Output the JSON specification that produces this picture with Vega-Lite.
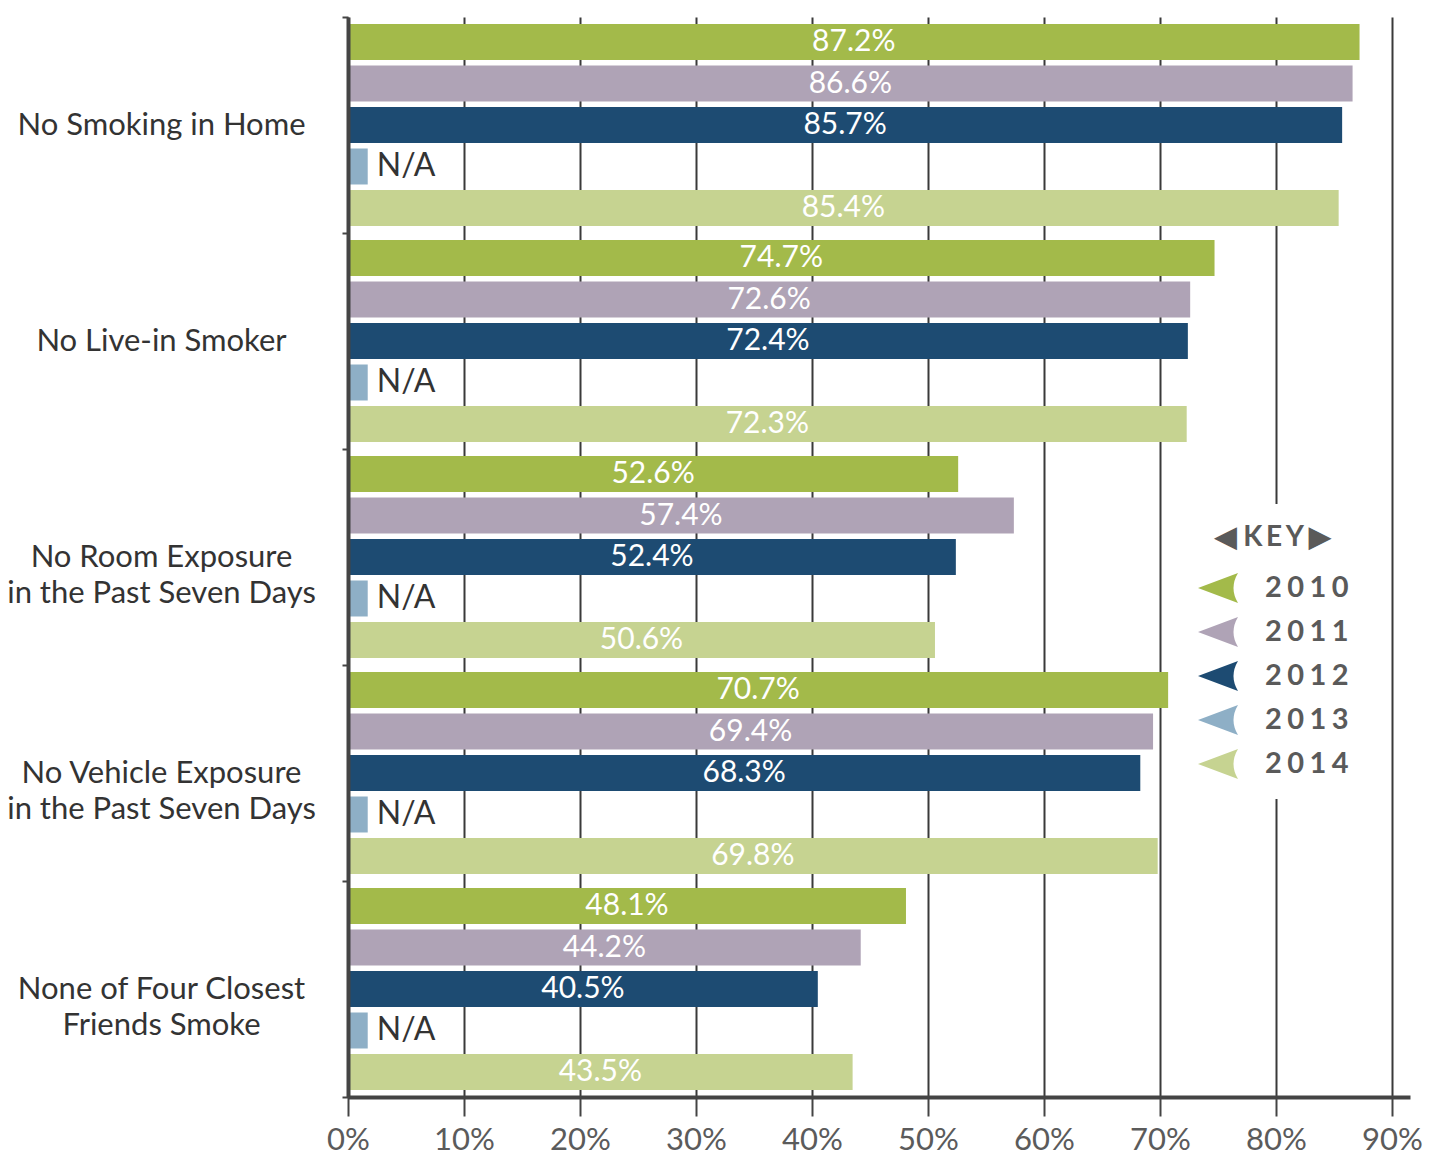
{
  "$schema": "https://vega.github.io/schema/vega-lite/v6.json",
  "autosize": {"type": "none"},
  "width": 1062,
  "height": 1080,
  "padding": {"left": 348, "top": 17, "right": 35, "bottom": 58},
  "background": "white",
  "config": {
    "view": {"stroke": null},
    "font": "Lato"
  },
  "data": {
    "values": [
      {"category": "No Smoking in Home", "year": "2010", "value": 87.2, "label": "87.2%"},
      {"category": "No Smoking in Home", "year": "2011", "value": 86.6, "label": "86.6%"},
      {"category": "No Smoking in Home", "year": "2012", "value": 85.7, "label": "85.7%"},
      {"category": "No Smoking in Home", "year": "2013", "value": 1.7, "label": "N/A"},
      {"category": "No Smoking in Home", "year": "2014", "value": 85.4, "label": "85.4%"},
      {"category": "No Live-in Smoker", "year": "2010", "value": 74.7, "label": "74.7%"},
      {"category": "No Live-in Smoker", "year": "2011", "value": 72.6, "label": "72.6%"},
      {"category": "No Live-in Smoker", "year": "2012", "value": 72.4, "label": "72.4%"},
      {"category": "No Live-in Smoker", "year": "2013", "value": 1.7, "label": "N/A"},
      {"category": "No Live-in Smoker", "year": "2014", "value": 72.3, "label": "72.3%"},
      {"category": "No Room Exposure in the Past Seven Days", "year": "2010", "value": 52.6, "label": "52.6%"},
      {"category": "No Room Exposure in the Past Seven Days", "year": "2011", "value": 57.4, "label": "57.4%"},
      {"category": "No Room Exposure in the Past Seven Days", "year": "2012", "value": 52.4, "label": "52.4%"},
      {"category": "No Room Exposure in the Past Seven Days", "year": "2013", "value": 1.7, "label": "N/A"},
      {"category": "No Room Exposure in the Past Seven Days", "year": "2014", "value": 50.6, "label": "50.6%"},
      {"category": "No Vehicle Exposure in the Past Seven Days", "year": "2010", "value": 70.7, "label": "70.7%"},
      {"category": "No Vehicle Exposure in the Past Seven Days", "year": "2011", "value": 69.4, "label": "69.4%"},
      {"category": "No Vehicle Exposure in the Past Seven Days", "year": "2012", "value": 68.3, "label": "68.3%"},
      {"category": "No Vehicle Exposure in the Past Seven Days", "year": "2013", "value": 1.7, "label": "N/A"},
      {"category": "No Vehicle Exposure in the Past Seven Days", "year": "2014", "value": 69.8, "label": "69.8%"},
      {"category": "None of Four Closest Friends Smoke", "year": "2010", "value": 48.1, "label": "48.1%"},
      {"category": "None of Four Closest Friends Smoke", "year": "2011", "value": 44.2, "label": "44.2%"},
      {"category": "None of Four Closest Friends Smoke", "year": "2012", "value": 40.5, "label": "40.5%"},
      {"category": "None of Four Closest Friends Smoke", "year": "2013", "value": 1.7, "label": "N/A"},
      {"category": "None of Four Closest Friends Smoke", "year": "2014", "value": 43.5, "label": "43.5%"}
    ]
  },
  "encoding": {
    "y": {
      "field": "category",
      "type": "nominal",
      "sort": null,
      "scale": {"paddingInner": 0, "paddingOuter": 0},
      "axis": {
        "title": null,
        "tickBand": "extent",
        "tickSize": 6,
        "tickWidth": 2,
        "tickColor": "#444444",
        "domainColor": "#444444",
        "domainWidth": 4,
        "zindex": 1,
        "labelAlign": "center",
        "labelBaseline": "middle",
        "labelPadding": 181,
        "labelFontSize": 31,
        "labelLineHeight": 36,
        "labelColor": "#333333",
        "labelLimit": 0,
        "labelExpr": "datum.label == 'No Room Exposure in the Past Seven Days' ? ['No Room Exposure', 'in the Past Seven Days'] : datum.label == 'No Vehicle Exposure in the Past Seven Days' ? ['No Vehicle Exposure', 'in the Past Seven Days'] : datum.label == 'None of Four Closest Friends Smoke' ? ['None of Four Closest', 'Friends Smoke'] : datum.label"
      }
    },
    "yOffset": {
      "field": "year",
      "type": "nominal",
      "sort": ["2010", "2011", "2012", "2013", "2014"],
      "scale": {"paddingInner": 0.1325, "paddingOuter": 0.169}
    }
  },
  "layer": [
    {
      "mark": {"type": "bar"},
      "encoding": {
        "x": {
          "field": "value",
          "type": "quantitative",
          "scale": {"domain": [0, 91.55], "nice": false},
          "axis": {
            "title": null,
            "values": [0, 10, 20, 30, 40, 50, 60, 70, 80, 90],
            "labelExpr": "datum.value + '%'",
            "grid": true,
            "gridColor": "#3a3a3a",
            "gridWidth": 2,
            "domainColor": "#444444",
            "domainWidth": 4,
            "tickColor": "#444444",
            "tickWidth": 2,
            "tickSize": 19,
            "labelFontSize": 31,
            "labelColor": "#5b5b5b",
            "labelPadding": 9,
            "labelFlush": false
          }
        },
        "color": {
          "field": "year",
          "type": "nominal",
          "scale": {
            "domain": ["2010", "2011", "2012", "2013", "2014"],
            "range": ["#a3ba4a", "#afa3b6", "#1d4b72", "#8eafc6", "#c6d391"]
          },
          "legend": {
            "orient": "none",
            "legendX": 830,
            "legendY": 487,
            "title": "◀ K\u2009E\u2009Y ▶",
            "titleFontSize": 28,
            "titleFontWeight": "bold",
            "titleColor": "#5a5a5a",
            "titleAnchor": "middle",
            "titlePadding": 16,
            "symbolType": "M-1,0L1,-0.75Q0.55,0,1,0.75Z",
            "symbolSize": 1600,
            "symbolStrokeWidth": 0,
            "symbolOpacity": 1,
            "labelFontSize": 29,
            "labelFontWeight": "bold",
            "labelColor": "#5a5a5a",
            "labelOffset": 27,
            "labelExpr": "join(split(datum.label, ''), '\u2009\u200a')",
            "rowPadding": 9,
            "padding": 20,
            "fillColor": "white"
          }
        }
      }
    },
    {
      "transform": [{"filter": "datum.year != '2013'"}],
      "mark": {"type": "text", "color": "white", "fontSize": 30, "align": "center", "baseline": "middle"},
      "encoding": {
        "x": {
          "field": "value",
          "type": "quantitative",
          "scale": {"domain": [0, 183.1], "nice": false},
          "axis": null
        },
        "text": {"field": "label"}
      }
    },
    {
      "transform": [{"filter": "datum.year == '2013'"}],
      "mark": {"type": "text", "color": "#333333", "fontSize": 32, "align": "left", "baseline": "middle", "dx": 9},
      "encoding": {
        "x": {
          "field": "value",
          "type": "quantitative",
          "scale": {"domain": [0, 91.55], "nice": false},
          "axis": null
        },
        "text": {"field": "label"}
      }
    }
  ],
  "resolve": {"scale": {"x": "independent"}}
}
